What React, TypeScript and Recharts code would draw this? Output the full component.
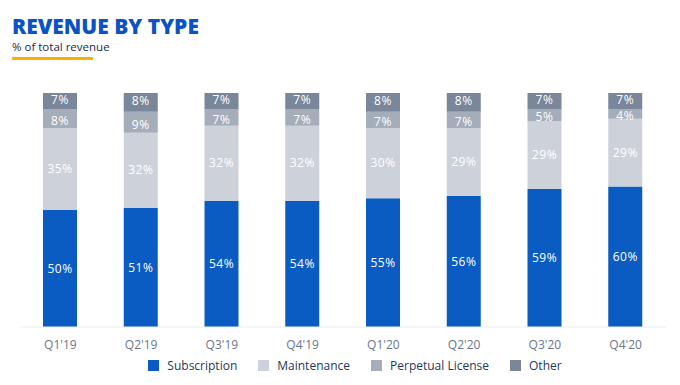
import React from "react";
import { BarChart, Bar, XAxis, YAxis, LabelList, Legend } from "recharts";

const quarters = ["Q1'19", "Q2'19", "Q3'19", "Q4'19", "Q1'20", "Q2'20", "Q3'20", "Q4'20"];
const subscription = [50, 51, 54, 54, 55, 56, 59, 60];
const maintenance = [35, 32, 32, 32, 30, 29, 29, 29];
const perpetual = [8, 9, 7, 7, 7, 7, 5, 4];
const other = [7, 8, 7, 7, 8, 8, 7, 7];

const seriesNames = ["Subscription", "Maintenance", "Perpetual License", "Other"];
const colors = ["#0a5cc2", "#cdd2da", "#a6adba", "#7a8699"];
const keys = ["subscription", "maintenance", "perpetual", "other"];
const labelShift = [0, 0, 2, -1.5];

const data = quarters.map((q, i) => ({
  q,
  subscription: subscription[i],
  maintenance: maintenance[i],
  perpetual: perpetual[i],
  other: other[i],
}));

const FONT = "'Open Sans', 'Noto Sans', sans-serif";

const LegendContent = () => (
  <div style={{ display: "flex", justifyContent: "center", gap: 21, fontFamily: FONT, fontSize: 12, color: "#253858", paddingLeft: 24 }}>
    {seriesNames.map((n, i) => (
      <div key={n} style={{ display: "flex", alignItems: "center" }}>
        <span style={{ width: 11, height: 11, background: colors[i], display: "inline-block", marginRight: 8 }} />
        <span>{n}</span>
      </div>
    ))}
  </div>
);

export default function App() {
  return (
    <div style={{ position: "absolute", left: 0, top: 0, width: 680, height: 385, background: "#fff" }}>
      <div style={{ position: "absolute", left: 12, top: 12, fontFamily: FONT, fontWeight: 800, fontSize: 21, color: "#0b52c4", lineHeight: "28px" }}>
        REVENUE BY TYPE
      </div>
      <div style={{ position: "absolute", left: 12, top: 39, fontFamily: FONT, fontSize: 11.5, color: "#172b4d" }}>
        % of total revenue
      </div>
      <div style={{ position: "absolute", left: 12, top: 57, width: 81, height: 3, background: "#ffab00", borderRadius: 1 }} />
      <BarChart
        width={680}
        height={385}
        data={data}
        margin={{ top: 93, right: 14, bottom: 4, left: 20 }}
      >
        <XAxis
          dataKey="q"
          tickLine={false}
          axisLine={{ stroke: "#ebecf0" }}
          tick={{ fill: "#6b778c", fontSize: 12, fontFamily: FONT }}
          tickMargin={7}
          height={30}
          interval={0}
        />
        <YAxis hide domain={[0, 100]} />
        <Legend verticalAlign="bottom" height={24} content={<LegendContent />} />
        {keys.map((k, i) => (
          <Bar key={k} dataKey={k} stackId="a" fill={colors[i]} barSize={34} isAnimationActive={false}>
            <LabelList
              dataKey={k}
              position="center"
              formatter={(v: number) => `${v}%`}
              fill="#ffffff"
              fontSize={12}
              letterSpacing={0.5}
              fontFamily={FONT}
              dy={labelShift[i]}
            />
          </Bar>
        ))}
      </BarChart>
    </div>
  );
}
